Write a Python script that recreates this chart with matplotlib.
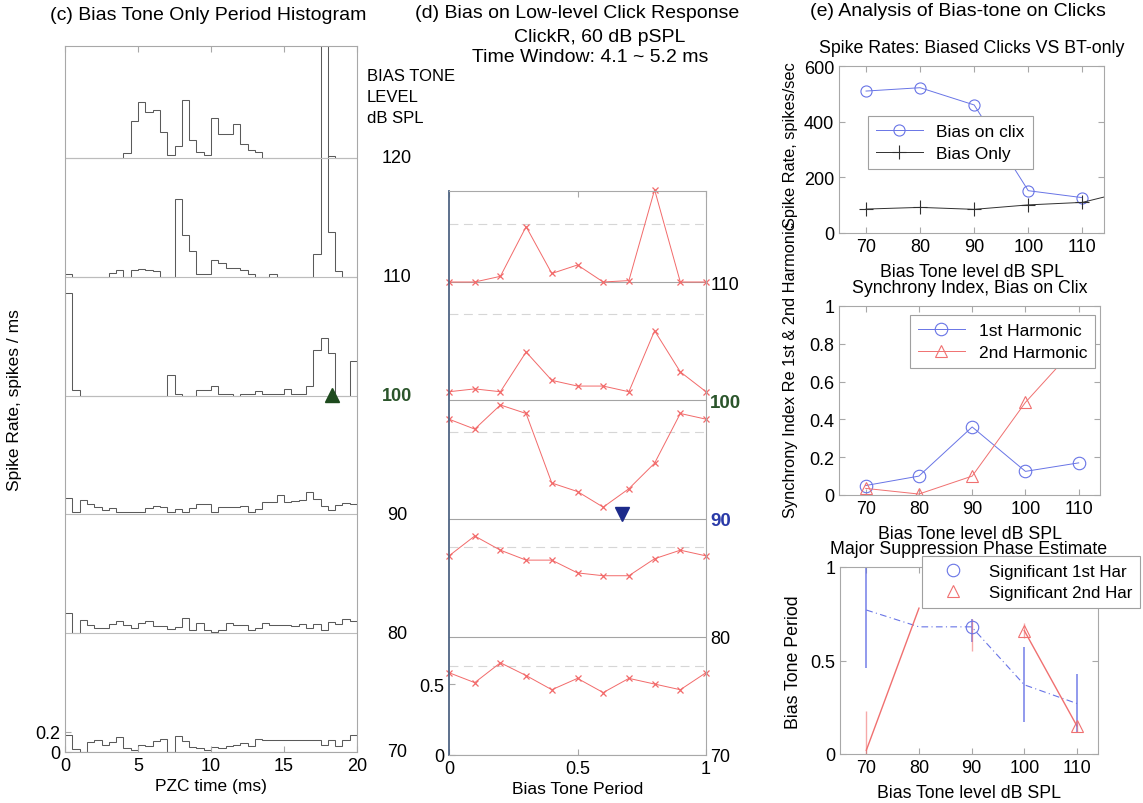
import numpy as np
import matplotlib
matplotlib.use("Agg")
import matplotlib.pyplot as plt
import matplotlib.transforms as mtransforms

plt.rcParams['font.family'] = ['Liberation Sans', 'DejaVu Sans']
plt.rcParams['xtick.direction'] = 'in'
plt.rcParams['ytick.direction'] = 'in'

W, H = 1143, 804

# ---------------- data ----------------
# (c) bias-tone-only period histograms, 0.5 ms bins, spikes/ms
levels = [70, 80, 90, 100, 110, 120]
bin_edges = np.arange(0, 20.5, 0.5)
hist_70 = [0.17, 0.03, 0.0, 0.10, 0.12, 0.07, 0.10, 0.15, 0.04, 0.02,
           0.07, 0.06, 0.11, 0.13, 0.0, 0.16, 0.11, 0.05, 0.04, 0.02,
           0.05, 0.04, 0.06, 0.07, 0.09, 0.06, 0.13, 0.12, 0.12, 0.12,
           0.12, 0.12, 0.12, 0.12, 0.12, 0.07, 0.12, 0.06, 0.12, 0.17]
hist_80 = [0.20, 0.0, 0.13, 0.08, 0.05, 0.05, 0.09, 0.12, 0.08, 0.05,
           0.10, 0.12, 0.07, 0.07, 0.04, 0.06, 0.15, 0.03, 0.10, 0.03,
           0.01, 0.03, 0.10, 0.08, 0.08, 0.03, 0.05, 0.10, 0.08, 0.08,
           0.08, 0.07, 0.09, 0.05, 0.09, 0.03, 0.11, 0.09, 0.14, 0.12]
hist_90 = [0.16, 0.02, 0.14, 0.10, 0.07, 0.04, 0.06, 0.02, 0.02, 0.02,
           0.02, 0.06, 0.08, 0.07, 0.02, 0.05, 0.02, 0.06, 0.10, 0.10,
           0.02, 0.07, 0.07, 0.07, 0.08, 0.02, 0.05, 0.12, 0.12, 0.19,
           0.12, 0.13, 0.14, 0.22, 0.15, 0.08, 0.04, 0.09, 0.11, 0.10]
hist_100 = [1.03, 0.06, 0, 0, 0, 0, 0, 0, 0, 0,
            0, 0, 0, 0, 0.21, 0.02, 0, 0, 0.06, 0.06,
            0.10, 0.02, 0.02, 0, 0.02, 0.02, 0.05, 0.02, 0.02, 0.02,
            0.07, 0.02, 0.02, 0.10, 0.46, 0.58, 0.43, 0, 0, 0.35]
hist_110 = [0.03, 0, 0, 0, 0, 0, 0.04, 0.07, 0, 0.07,
            0.08, 0.07, 0.06, 0, 0, 0.78, 0.42, 0.26, 0.03, 0.03,
            0.17, 0.14, 0.09, 0.09, 0.07, 0.03, 0, 0, 0.03, 0,
            0, 0, 0, 0, 0.23, 2.6, 0.45, 0.06, 0, 0]
hist_120 = [0, 0, 0, 0, 0, 0, 0, 0, 0.05, 0.37,
            0.56, 0.46, 0.48, 0.26, 0.03, 0.12, 0.58, 0.18, 0.06, 0.03,
            0.40, 0.24, 0.24, 0.34, 0.14, 0.08, 0.06, 0, 0, 0,
            0, 0, 0, 0, 0, 0, 0.02, 0, 0, 0]
hist_step = 1.188  # vertical spacing between stacked histograms

# (d) bias on click response vs bias tone phase
d_levels = [70, 80, 90, 100, 110]
bias_period = [0, 0.1, 0.2, 0.3, 0.4, 0.5, 0.6, 0.7, 0.8, 0.9, 1.0]
click_70 = [0.58, 0.51, 0.65, 0.56, 0.46, 0.54, 0.44, 0.54, 0.50, 0.46, 0.58]
click_80 = [0.57, 0.71, 0.61, 0.54, 0.54, 0.45, 0.43, 0.43, 0.55, 0.61, 0.57]
click_90 = [0.70, 0.63, 0.80, 0.74, 0.25, 0.19, 0.08, 0.21, 0.39, 0.74, 0.70]
click_100 = [0.06, 0.08, 0.06, 0.34, 0.14, 0.10, 0.10, 0.06, 0.49, 0.20, 0.06]
click_110 = [0.0, 0.0, 0.04, 0.39, 0.06, 0.12, 0.0, 0.01, 0.65, 0.0, 0.0]
click_ref = [0.63, 0.63, 0.61, 0.61, 0.41]
d_scale = 12.0  # dB of offset per unit of response

# (e) analysis
e_levels = [70, 80, 90, 100, 110]
only_levels = [70, 80, 90, 100, 110, 120]
rate_bias_clix = [510, 522, 460, 152, 127]
rate_bias_only = [86, 92, 85, 101, 110, 158]
sync_h1 = [0.05, 0.10, 0.36, 0.125, 0.17]
sync_h2 = [0.035, 0.005, 0.10, 0.49, 0.80]
phase_h1 = [0.77, 0.68, 0.68, 0.37, 0.27]
phase_h1_lo = [0.46, np.nan, 0.60, 0.17, 0.12]
phase_h1_hi = [1.10, np.nan, 0.72, 0.57, 0.43]
phase_h1_sig = [False, False, True, False, False]
phase_h2 = [0.02, 0.78, np.nan, 0.66, 0.15]
phase_h2_lo = [0.0, np.nan, 0.55, 0.62, 0.12]
phase_h2_hi = [0.23, np.nan, 0.72, 0.70, 0.17]
phase_h2_sig = [False, False, False, True, True]


def px_axes(fig, left, top, right, bottom):
    return fig.add_axes([left / W, 1 - bottom / H, (right - left) / W, (bottom - top) / H])


def px_text(x, y, s, **kw):
    kw.setdefault('ha', 'center')
    kw.setdefault('va', 'center')
    return fig.text(x / W, 1 - y / H, s, **kw)


def frame(ax, color='#a8a8a8'):
    for s in ax.spines.values():
        s.set_color(color)
        s.set_linewidth(0.8)
    ax.tick_params(colors='#a8a8a8', labelcolor='black', length=4, width=0.8)


fig = plt.figure(figsize=(W / 100, H / 100), dpi=100)

# ---------------- (c) ----------------
ax_c = px_axes(fig, 65, 47, 357, 753)
hists = [hist_70, hist_80, hist_90, hist_100, hist_110, hist_120]
offsets = [(lv - 70) / 10 * hist_step for lv in levels]
for off, h in zip(offsets, hists):
    ax_c.axhline(off, color='#bcbcbc', lw=0.8)
    ax_c.stairs(np.array(h) + off, bin_edges, baseline=off, color='#5a5a5a', lw=0.75)
ax_c.plot(18.3, offsets[3] + 0.01, '^', color='#1d4a1d', ms=10)
ax_c.set_xlim(0, 20)
ax_c.set_ylim(0, 7.06)
ax_c.set_xticks([0, 5, 10, 15, 20])
ax_c.set_yticks([0, 0.2])
ax_c.set_yticklabels(['0', '0.2'])
frame(ax_c)
ax_c.tick_params(labelsize=13, top=True)
ax_c.set_xlabel('PZC time (ms)', fontsize=12.5, labelpad=3)
px_text(208, 16, '(c) Bias Tone Only Period Histogram', fontsize=14)
px_text(15, 400, 'Spike Rate, spikes / ms', rotation=90, fontsize=12.5)

tr_c = mtransforms.blended_transform_factory(ax_c.transAxes, ax_c.transData)
for lv, off in zip(levels, offsets):
    if lv == 100:
        ax_c.text(1.137, off, str(lv), transform=tr_c, ha='center', va='center',
                  fontsize=13, fontweight='bold', color='#2b552b')
    else:
        ax_c.text(1.137, off, str(lv), transform=tr_c, ha='center', va='center', fontsize=13)
px_text(367, 69, 'BIAS TONE\nLEVEL\ndB SPL', ha='left', va='top',
        fontsize=12, linespacing=1.5)

# ---------------- (d) ----------------
ax_d = px_axes(fig, 449, 192, 706, 756)
curves = [click_70, click_80, click_90, click_100, click_110]
for lv, cv, ref in zip(d_levels, curves, click_ref):
    ax_d.axhline(lv, color='#a4a4a4', lw=0.8)
    ax_d.axhline(lv + ref * d_scale, color='#d6d6d6', lw=0.8, ls=(0, (8, 5)))
    ax_d.plot(bias_period, lv + np.array(cv) * d_scale, color='#f26a6a', lw=0.7,
              marker='x', ms=4, mew=0.9, clip_on=False)
ax_d.plot(0.675, 90.4, 'v', color='#1c2a8a', ms=10)
ax_d.set_xlim(0, 1)
ax_d.set_ylim(70, 70 + (756 - 192) / 11.825)
ax_d.set_xticks([0, 0.5, 1])
ax_d.set_xticklabels(['0', '0.5', '1'])
ax_d.set_yticks([70, 70 + 0.5 * d_scale])
ax_d.set_yticklabels(['0', '0.5'])
frame(ax_d)
ax_d.tick_params(labelsize=13, top=True)
ax_d.spines['left'].set_color('#4f6584')
ax_d.spines['left'].set_linewidth(1.3)
ax_d.set_xlabel('Bias Tone Period', fontsize=12.5, labelpad=3)

ax_dr = ax_d.twinx()
ax_dr.set_ylim(ax_d.get_ylim())
ax_dr.set_yticks(d_levels)
ax_dr.set_yticklabels([str(v) for v in d_levels])
ax_dr.tick_params(labelsize=13, length=0, pad=3)
for lab in ax_dr.get_yticklabels():
    if lab.get_text() == '100':
        lab.set_fontweight('bold'); lab.set_color('#2b552b'); lab.set_fontsize(13.5)
    if lab.get_text() == '90':
        lab.set_fontweight('bold'); lab.set_color('#2a3aa8'); lab.set_fontsize(13.5)
for s in ax_dr.spines.values():
    s.set_visible(False)

px_text(577, 14, '(d) Bias on Low-level Click Response', fontsize=14)
px_text(600, 37, 'ClickR, 60 dB pSPL', fontsize=14)
px_text(590, 58, 'Time Window: 4.1 ~ 5.2 ms', fontsize=14)

# ---------------- (e) ----------------
blue = '#6874e6'
red = '#f07070'
px_text(958, 12, '(e) Analysis of Bias-tone on Clicks', fontsize=14)
leg_kw = dict(fontsize=12.5, fancybox=False, edgecolor='#a0a0a0', borderpad=0.45,
              handlelength=2.7, handletextpad=0.8, labelspacing=0.4, framealpha=1,
              borderaxespad=0)

ax1 = px_axes(fig, 839, 67, 1104, 234)
ax1.plot(e_levels, rate_bias_clix, color=blue, lw=0.7, marker='o', mfc='none', ms=8,
         mew=0.8, label='Bias on clix')
ax1.plot(only_levels, rate_bias_only, color='#303030', lw=0.7, marker='+', ms=10,
         mew=0.8, label='Bias Only')
ax1.set_xlim(65, 114)
ax1.set_ylim(0, 600)
ax1.set_xticks(e_levels)
ax1.set_yticks([0, 200, 400, 600])
ax1.set_title('Spike Rates: Biased Clicks VS BT-only', fontsize=12.8, pad=10)
ax1.set_xlabel('Bias Tone level dB SPL', fontsize=12.8, labelpad=6)
leg = ax1.legend(loc='upper left', bbox_to_anchor=(0.109, 0.70), **leg_kw)
leg.get_frame().set_linewidth(0.8)

ax2 = px_axes(fig, 839, 307, 1100, 496)
ax2.plot(e_levels, sync_h1, color=blue, lw=0.7, marker='o', mfc='none', ms=9,
         mew=0.8, label='1st Harmonic')
ax2.plot(e_levels, sync_h2, color=red, lw=0.7, marker='^', mfc='none', ms=9,
         mew=0.8, label='2nd Harmonic')
ax2.set_xlim(65, 114)
ax2.set_ylim(0, 1)
ax2.set_xticks(e_levels)
ax2.set_yticks([0, 0.2, 0.4, 0.6, 0.8, 1])
ax2.set_yticklabels(['0', '0.2', '0.4', '0.6', '0.8', '1'])
ax2.set_title('Synchrony Index, Bias on Clix', fontsize=12.8, pad=10)
ax2.set_xlabel('Bias Tone level dB SPL', fontsize=12.8, labelpad=6)
leg = ax2.legend(loc='upper left', bbox_to_anchor=(0.272, 0.952), **leg_kw)
leg.get_frame().set_linewidth(0.8)
leg.set_zorder(5)

ax3 = px_axes(fig, 840, 568, 1098, 755)
ax3.plot(e_levels, phase_h1, color=blue, lw=0.8, ls=(0, (6, 3, 1, 3)))
ax3.plot(e_levels, phase_h2, color=red, lw=1.0)
ax3.vlines(e_levels, phase_h1_lo, phase_h1_hi, color=blue, lw=1.2, alpha=0.85)
ax3.vlines(e_levels, phase_h2_lo, phase_h2_hi, color=red, lw=1.0, alpha=0.6)
sig1 = np.array(phase_h1_sig)
sig2 = np.array(phase_h2_sig)
ax3.plot(np.array(e_levels)[sig1], np.array(phase_h1)[sig1], 'o', color=blue, mfc='none',
         ms=9, mew=0.8, label='Significant 1st Har')
ax3.plot(np.array(e_levels)[sig2], np.array(phase_h2)[sig2], '^', color=red, mfc='none',
         ms=9, mew=0.8, label='Significant 2nd Har')
ax3.set_xlim(65, 114)
ax3.set_ylim(0, 1)
ax3.set_xticks(e_levels)
ax3.set_yticks([0, 0.5, 1])
ax3.set_yticklabels(['0', '0.5', '1'])
ax3.set_title('Major Suppression Phase Estimate', fontsize=12.8, pad=10)
ax3.set_xlabel('Bias Tone level dB SPL', fontsize=12.8, labelpad=6)
leg3_kw = dict(leg_kw, fontsize=12.2)
leg = ax3.legend(loc='upper left', bbox_to_anchor=(0.318, 1.059), **leg3_kw)
leg.get_frame().set_linewidth(0.8)
leg.set_zorder(5)

for ax in (ax1, ax2, ax3):
    frame(ax)
    ax.tick_params(labelsize=13, top=True, right=True)

px_text(790, 145, 'Spike Rate, spikes/sec', rotation=90, fontsize=11.8)
px_text(790, 370, 'Synchrony Index Re 1st & 2nd Harmonic', rotation=90, fontsize=11.8)
px_text(793, 662, 'Bias Tone Period', rotation=90, fontsize=12.8)

fig.savefig('out.png', dpi=100)
